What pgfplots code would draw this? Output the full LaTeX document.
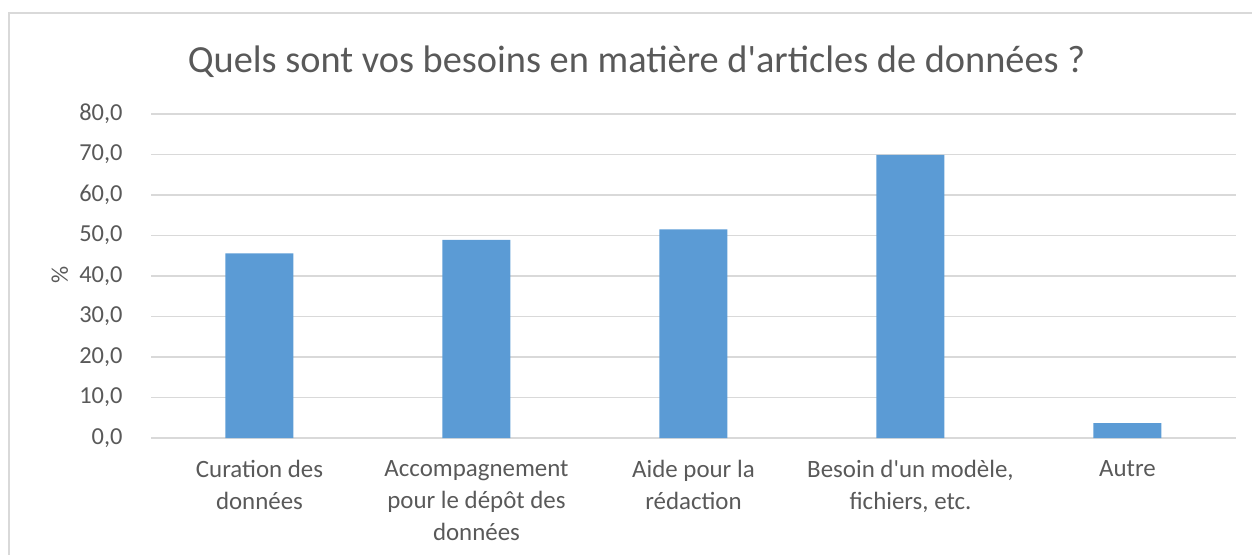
\documentclass[border=0pt]{standalone}
\usepackage{pgfplots}
\pgfplotsset{compat=1.18}
\usepackage{fontspec}
\setmainfont{Carlito}
\newfontfamily\carlito{Carlito}
\definecolor{barblue}{HTML}{5B9BD5}
\definecolor{gridgray}{HTML}{D9D9D9}
\definecolor{txtgray}{HTML}{595959}
\begin{document}
\begin{tikzpicture}
\path[use as bounding box] (0bp,0bp) rectangle (1252bp,-555bp);
\draw[gridgray, line width=1.5bp] (9bp,-555bp) -- (9bp,-13bp) -- (1252bp,-13bp);
\begin{axis}[
  at={(151bp,-438bp)}, anchor=south west,
  scale only axis, width=1085bp, height=324bp,
  xmin=-0.5, xmax=4.5, ymin=0, ymax=80,
  ytick={0,10,...,80},
  ymajorgrids, grid style={gridgray, line width=1.3bp},
  axis line style={draw=none},
  major tick length=0pt,
  ybar, bar width=68bp,
  xtick={0,1,2,3,4},
  xticklabels={{Curation des\\données},{Accompagnement\\pour le dépôt des\\données},{Aide pour la\\rédaction},{Besoin d'un modèle,\\fichiers, etc.},{Autre}},
  xticklabel style={align=center, font=\carlito\fontsize{25}{32}\selectfont, text=txtgray, yshift=-19bp},
  yticklabel style={font=\carlito\fontsize{24.5}{30}\selectfont, text=txtgray, xshift=-25bp},
  /pgf/number format/.cd, fixed, fixed zerofill, precision=1, use comma, assume math mode=true,
  /pgfplots/.cd,
  title={Quels sont vos besoins en matière d'articles de données ?},
  title style={anchor=base, at={(axis description cs:0.4475,1)}, yshift=36bp, font=\carlito\fontsize{38.5}{44}\selectfont, text=txtgray},
  ylabel={\%},
  ylabel style={at={(axis description cs:-0.084,0.503)}, anchor=center, font=\carlito\fontsize{24}{30}\selectfont, text=txtgray},
]
\addplot[fill=barblue, draw=none] coordinates {(0,45.6) (1,48.9) (2,51.5) (3,69.9) (4,3.7)};
\end{axis}
\end{tikzpicture}
\end{document}
